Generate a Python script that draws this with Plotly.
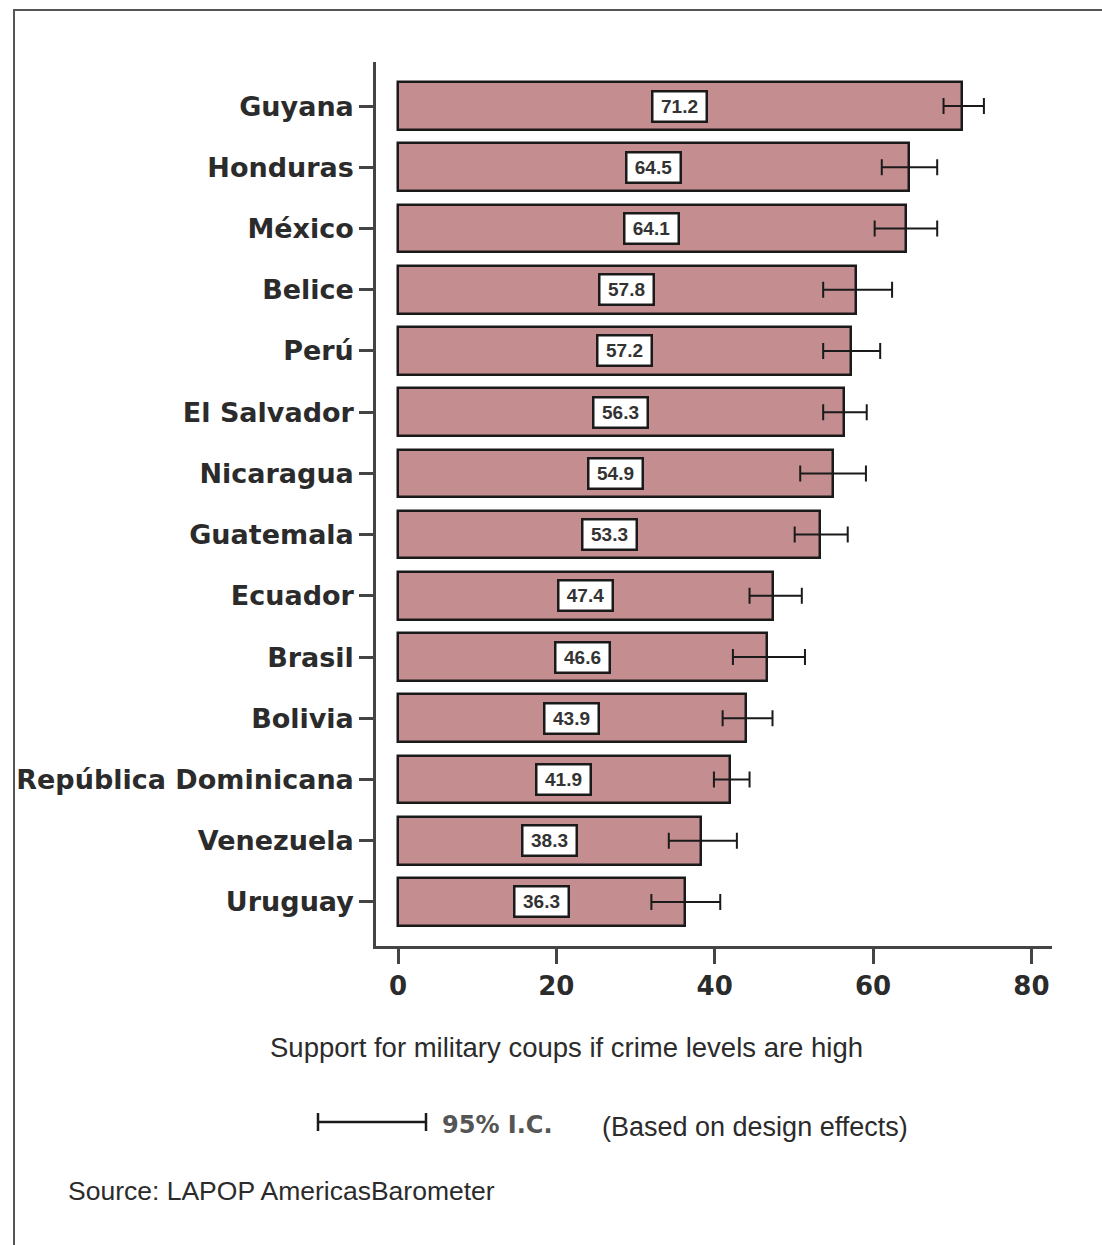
import plotly.graph_objects as go

# Support for military coups if crime levels are high, by country (%)
countries = [
    "Guyana", "Honduras", "México", "Belice", "Perú", "El Salvador",
    "Nicaragua", "Guatemala", "Ecuador", "Brasil", "Bolivia",
    "República Dominicana", "Venezuela", "Uruguay",
]
support = [71.2, 64.5, 64.1, 57.8, 57.2, 56.3, 54.9, 53.3, 47.4, 46.6, 43.9, 41.9, 38.3, 36.3]
ci_low = [68.9, 61.1, 60.2, 53.7, 53.7, 53.7, 50.8, 50.1, 44.4, 42.3, 41.0, 39.9, 34.2, 32.0]
ci_high = [74.0, 68.1, 68.1, 62.4, 60.9, 59.2, 59.1, 56.8, 51.0, 51.4, 47.3, 44.4, 42.8, 40.7]
x_ticks = [0, 20, 40, 60, 80]

W, H = 1102, 1245
L, R, T, B = 376, 50, 62, 299
PW, PH = W - L - R, H - T - B


def px(x):
    return (x - L) / PW


def py(y):
    return (H - B - y) / PH


BAR_COLOR = "#C48E90"
INK = "#2b2b2b"
BOLD_FONT = "DejaVu Sans"
TEXT_FONT = "Liberation Sans"

fig = go.Figure()
fig.add_trace(go.Bar(
    x=support,
    y=countries,
    orientation="h",
    width=0.78,
    marker=dict(color=BAR_COLOR, line=dict(color="#1a1a1a", width=2.5)),
    error_x=dict(
        type="data",
        symmetric=False,
        array=[h - v for h, v in zip(ci_high, support)],
        arrayminus=[v - lo for v, lo in zip(support, ci_low)],
        color="#1a1a1a",
        thickness=2,
        width=8,
    ),
    hoverinfo="skip",
))

# Value labels in white boxes at the middle of each bar
for c, v in zip(countries, support):
    fig.add_annotation(
        x=v / 2, y=c, xref="x", yref="y",
        text=f"{v:.1f}", showarrow=False,
        font=dict(family=TEXT_FONT, size=19, color="#333333", weight="bold"),
        bgcolor="white", bordercolor="#1a1a1a", borderwidth=2.5,
        borderpad=3, width=46, height=22,
    )

annotations_text = [
    dict(x=px(566), y=py(1047), text="Support for military coups if crime levels are high",
         xanchor="center", font=dict(family=TEXT_FONT, size=27.5, color=INK)),
    dict(x=px(440), y=py(1125), text="95% I.C.", xanchor="left",
         font=dict(family=BOLD_FONT, size=24, color="#555555", weight="bold")),
    dict(x=px(600), y=py(1127), text="(Based on design effects)", xanchor="left",
         font=dict(family=TEXT_FONT, size=27, color=INK)),
    dict(x=px(66), y=py(1191), text="Source: LAPOP AmericasBarometer", xanchor="left",
         font=dict(family=TEXT_FONT, size=26.5, color=INK)),
]
for a in annotations_text:
    fig.add_annotation(xref="paper", yref="paper", yanchor="middle", showarrow=False, **a)

shapes = [
    # outer frame: top and left edges
    dict(type="line", x0=px(13), x1=px(1102), y0=py(10), y1=py(10), line=dict(color="#555555", width=2)),
    dict(type="line", x0=px(14), x1=px(14), y0=py(10), y1=py(1245), line=dict(color="#555555", width=2)),
    # confidence-interval key
    dict(type="line", x0=px(318), x1=px(426), y0=py(1122), y1=py(1122), line=dict(color="#1a1a1a", width=2.5)),
    dict(type="line", x0=px(318), x1=px(318), y0=py(1113), y1=py(1131), line=dict(color="#1a1a1a", width=2.5)),
    dict(type="line", x0=px(426), x1=px(426), y0=py(1113), y1=py(1131), line=dict(color="#1a1a1a", width=2.5)),
]
for s in shapes:
    fig.add_shape(xref="paper", yref="paper", **s)

fig.update_layout(
    width=W, height=H,
    margin=dict(l=L, r=R, t=T, b=B, pad=0),
    paper_bgcolor="white", plot_bgcolor="white",
    showlegend=False,
    bargap=0,
    xaxis=dict(
        range=[-2.78, 82.6], tickvals=x_ticks, ticktext=[str(t) for t in x_ticks],
        showgrid=False, zeroline=False,
        showline=True, linecolor="#444444", linewidth=2.5,
        ticks="outside", ticklen=15, tickwidth=2.5, tickcolor="#444444",
        tickfont=dict(family=BOLD_FONT, size=26, color=INK, weight="bold"),
    ),
    yaxis=dict(
        categoryorder="array", categoryarray=countries[::-1],
        range=[-0.72, 13.72],
        showgrid=False, zeroline=False,
        showline=True, linecolor="#444444", linewidth=2.5,
        ticks="outside", ticklen=14, tickwidth=2.5, tickcolor="#444444",
        tickfont=dict(family=BOLD_FONT, size=27, color=INK, weight="bold"),
    ),
)

fig.write_html("out.html")
